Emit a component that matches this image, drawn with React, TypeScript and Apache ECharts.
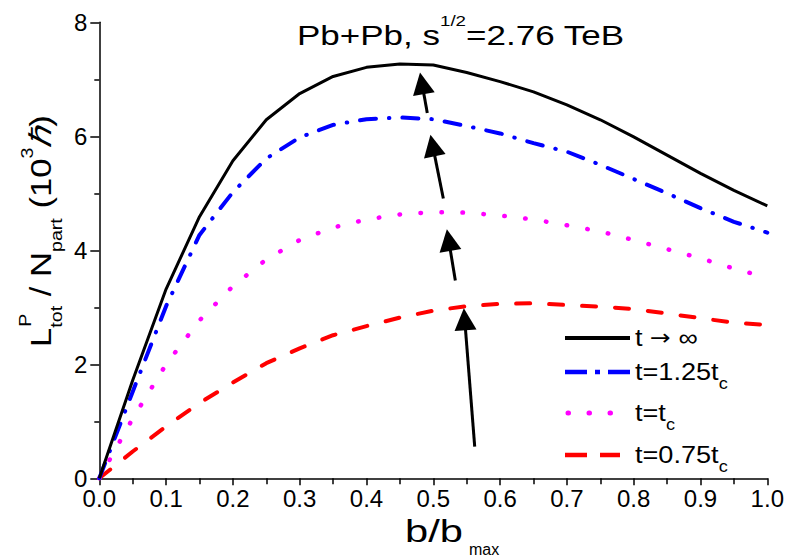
import { useEffect, useRef } from 'react';
import * as echarts from 'echarts';

const X_VALUES = [0, 0.05, 0.1, 0.15, 0.2, 0.25, 0.3, 0.35, 0.4, 0.45, 0.5, 0.55, 0.6, 0.65, 0.7, 0.75, 0.8, 0.85, 0.9, 0.95, 1.0];
const T_INF = [0, 1.72, 3.32, 4.59, 5.57, 6.29, 6.75, 7.05, 7.21, 7.27, 7.25, 7.12, 6.96, 6.78, 6.55, 6.29, 5.99, 5.67, 5.35, 5.05, 4.78];
const T_125 = [0, 1.52, 3.02, 4.27, 5.02, 5.61, 5.98, 6.2, 6.3, 6.33, 6.3, 6.18, 6.05, 5.88, 5.73, 5.5, 5.25, 5.0, 4.74, 4.5, 4.31];
const T_100 = [0, 1.05, 2.0, 2.77, 3.37, 3.84, 4.18, 4.4, 4.54, 4.63, 4.67, 4.66, 4.61, 4.54, 4.44, 4.33, 4.18, 4.02, 3.86, 3.68, 3.52];
const T_075 = [0, 0.47, 0.91, 1.32, 1.68, 2.02, 2.28, 2.51, 2.67, 2.82, 2.94, 3.02, 3.06, 3.07, 3.04, 3.01, 2.97, 2.89, 2.81, 2.73, 2.69];

// arrows: [start, head centre] in data units
const ARROWS = [
  [[0.562, 0.556], [0.547, 2.79]],
  [[0.533, 3.47], [0.523, 4.18]],
  [[0.515, 4.91], [0.499, 5.84]],
  [[0.491, 6.41], [0.483, 6.93]],
];

const LEGEND_LABELS = [
  '{m|t }{r|→}{m| ∞}',
  '{m|t=1.25t}{s|c}',
  '{m|t=t}{s|c}',
  '{m|t=0.75t}{s|c}',
];

const F = "'Liberation Sans', Arial, Helvetica, sans-serif";

export default function App() {
  const ref = useRef<HTMLDivElement>(null);
  useEffect(() => {
    const chart = echarts.init(ref.current!, null, { renderer: 'svg' });
    const mk = (ys: number[]) => X_VALUES.map((x, i) => [x, ys[i]]);
    const legendRows = [
      { y: 338, stroke: '#000000', w: 4, x1: 565, x2: 630, dash: null as any, cap: 'butt' },
      { y: 372, stroke: '#0000ff', w: 4.5, x1: 565, x2: 630, dash: [22, 8, 5, 8, 22, 0], cap: 'butt' },
      { y: 413, stroke: '#ff00ff', w: 5, x1: 568, x2: 611, dash: [0.5, 20.5], cap: 'round' },
      { y: 455, stroke: '#ff0000', w: 4.5, x1: 565, x2: 620, dash: [22, 13], cap: 'butt' },
    ];
    const legendGraphics: any[] = [];
    legendRows.forEach((r, i) => {
      legendGraphics.push({
        type: 'line',
        shape: { x1: r.x1, y1: r.y, x2: r.x2, y2: r.y },
        style: { stroke: r.stroke, lineWidth: r.w, lineDash: r.dash, lineCap: r.cap },
      });
      legendGraphics.push({
        type: 'text',
        x: 635,
        y: r.y,
        scaleX: 1.13,
        style: {
          text: LEGEND_LABELS[i],
          verticalAlign: 'middle',
          align: 'left',
          rich: {
            m: { fontSize: 24, fontFamily: F, fill: '#000', lineHeight: 40, verticalAlign: 'middle' },
            r: { fontSize: 22, fontFamily: "'DejaVu Sans', sans-serif", fill: '#000', lineHeight: 40, verticalAlign: 'middle' },
            s: { fontSize: 16, fontFamily: F, fill: '#000', lineHeight: 16, verticalAlign: 'bottom' },
          },
        },
      });
    });

    const yName = {
      type: 'group',
      x: 41,
      y: 347,
      rotation: Math.PI / 2,
      scaleX: 1.155,
      children: [
        {
          type: 'text',
          x: 0,
          y: 0,
          style: {
            text: '{m|L}{s|tot}{m| / N}{s|part}{m| (10}{u|3}{h|ℏ}{m|)}',
            align: 'left',
            verticalAlign: 'middle',
            rich: {
              m: { fontSize: 30, fontFamily: F, fill: '#000', lineHeight: 46, verticalAlign: 'middle' },
              h: { fontSize: 30, fontFamily: F, fontStyle: 'italic', fill: '#000', lineHeight: 46, verticalAlign: 'middle' },
              s: { fontSize: 17, fontFamily: F, fill: '#000', lineHeight: 14, verticalAlign: 'bottom' },
              u: { fontSize: 17, fontFamily: F, fill: '#000', lineHeight: 14, verticalAlign: 'top' },
            },
          },
        },
        {
          type: 'text',
          x: 17.5,
          y: -16,
          style: { text: 'P', font: `17px ${F}`, fill: '#000', verticalAlign: 'middle', align: 'left' },
        },
      ],
    };

    const option: any = {
      animation: false,
      backgroundColor: '#ffffff',
      grid: { left: 99.3, right: 19.7, top: 22.3, bottom: 78.7, containLabel: false },
      xAxis: {
        type: 'value',
        min: 0,
        max: 1,
        interval: 0.1,
        axisLine: { show: true, onZero: false, lineStyle: { color: '#000', width: 1.5 } },
        axisTick: { show: true, inside: false, length: 7, lineStyle: { color: '#000', width: 1.5 } },
        minorTick: { show: true, splitNumber: 2, length: 6, lineStyle: { color: '#000', width: 1.5 } },
        splitLine: { show: false },
        minorSplitLine: { show: false },
        axisLabel: { color: '#000', fontSize: 24, fontFamily: F, margin: 8, formatter: (v: number) => v.toFixed(1) },
      },
      yAxis: {
        type: 'value',
        min: 0,
        max: 8,
        interval: 2,
        axisLine: { show: true, onZero: false, lineStyle: { color: '#000', width: 1.5 } },
        axisTick: { show: true, inside: false, length: 9, lineStyle: { color: '#000', width: 1.5 } },
        minorTick: { show: true, splitNumber: 2, length: 5, lineStyle: { color: '#000', width: 1.5 } },
        splitLine: { show: false },
        minorSplitLine: { show: false },
        axisLabel: { color: '#000', fontSize: 24, fontFamily: F, margin: 12 },
      },
      series: [
        {
          name: 't075', type: 'line', data: mk(T_075), showSymbol: false, z: 2,
          lineStyle: { color: '#ff0000', width: 4, type: [14, 19], cap: 'round' },
        },
        {
          name: 't100', type: 'line', data: mk(T_100), showSymbol: false, z: 2,
          lineStyle: { color: '#ff00ff', width: 4.5, type: [0.5, 20.5], cap: 'round' },
        },
        {
          name: 't125', type: 'line', data: mk(T_125), showSymbol: false, z: 3,
          lineStyle: { color: '#0000ff', width: 4, type: [16, 13, 0.5, 13], cap: 'round' },
        },
        {
          name: 'tinf', type: 'line', data: mk(T_INF), showSymbol: false, z: 4,
          lineStyle: { color: '#000000', width: 3 },
        },
        {
          name: 'arrows', type: 'lines', coordinateSystem: 'cartesian2d', z: 5,
          symbol: ['none', 'triangle'], symbolSize: [13, 22],
          lineStyle: { color: '#000', width: 3, opacity: 1, curveness: 0 },
          data: ARROWS.map((a) => ({ coords: a })),
        },
      ],
      graphic: [
        {
          type: 'text',
          x: 297,
          y: 35,
          scaleX: 1.25,
          style: {
            text: '{a|Pb+Pb, s}{b|1/2}{a|=2.76 TeB}',
            verticalAlign: 'middle',
            rich: {
              a: { fontSize: 28, fontFamily: F, fill: '#000', lineHeight: 42, verticalAlign: 'middle' },
              b: { fontSize: 15, fontFamily: F, fill: '#000', lineHeight: 14, verticalAlign: 'top' },
            },
          },
        },
        yName,
        {
          type: 'text',
          x: 405,
          y: 531,
          scaleX: 1.3,
          style: { text: 'b/b', font: `32px ${F}`, fill: '#000', verticalAlign: 'middle' },
        },
        {
          type: 'text',
          x: 469,
          y: 549,
          style: { text: 'max', font: `16px ${F}`, fill: '#000', verticalAlign: 'middle' },
        },
        ...legendGraphics,
      ],
    };
    chart.setOption(option);
    return () => chart.dispose();
  }, []);
  return (
    <div
      ref={ref}
      style={{ position: 'absolute', left: 0, top: 0, width: 787, height: 557, background: '#ffffff' }}
    />
  );
}
